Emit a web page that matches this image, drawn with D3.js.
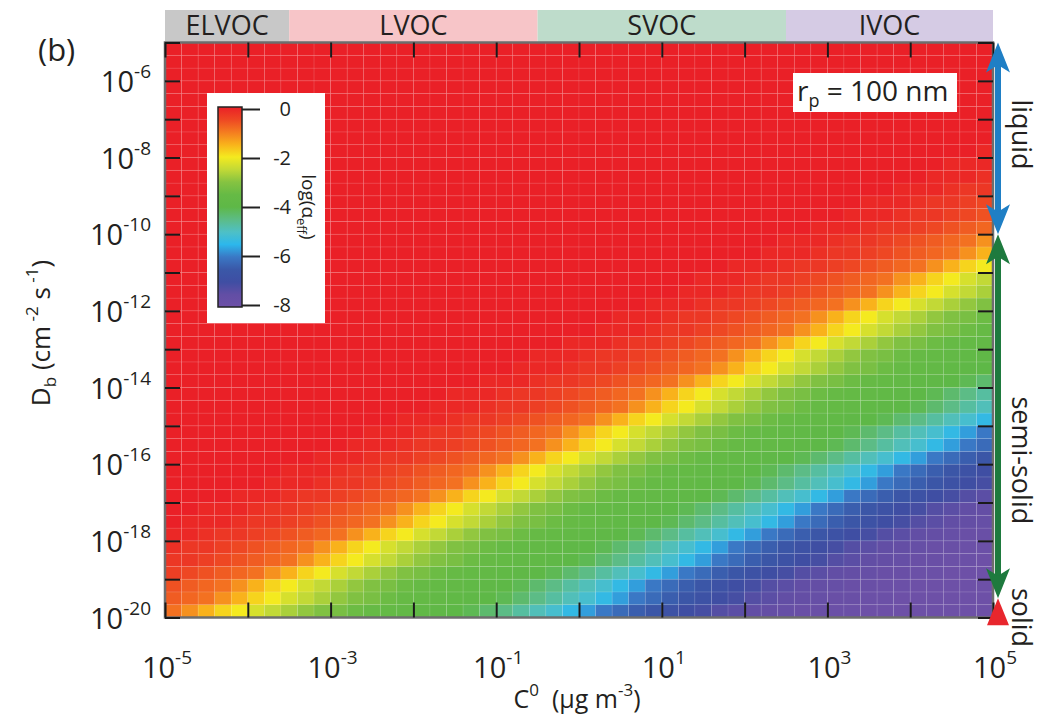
<!DOCTYPE html>
<html>
<head>
<meta charset="utf-8">
<script src="https://cdn.jsdelivr.net/npm/d3@7"></script>
<style>
  body { margin: 0; background: #fff; }
  svg { display: block; }
  text { font-family: "Open Sans", "Noto Sans", sans-serif; fill: #231f20; }
</style>
</head>
<body>
<svg id="chart" width="1040" height="719"></svg>
<script>
// ---- grid of the simulation (log10 units) ----
const logC0Start = -5, logC0Step = 0.2, logC0Count = 50;     // C0 columns, µg m-3
const logDbStart = -20, logDbStep = 1 / 3, logDbCount = 45;  // Db rows, cm2 s-1

// -10 * log10(alpha_eff) for every cell; one line per Db row, highest Db (1e-5) first
const alphaTenths = `
0 0 0 0 0 0 0 0 0 0 0 0 0 0 0 0 0 0 0 0 0 0 0 0 0 0 0 0 0 0 0 0 0 0 0 0 0 0 0 0 0 0 0 0 0 0 0 0 0 0
0 0 0 0 0 0 0 0 0 0 0 0 0 0 0 0 0 0 0 0 0 0 0 0 0 0 0 0 0 0 0 0 0 0 0 0 0 0 0 0 0 0 0 0 0 0 0 0 0 0
0 0 0 0 0 0 0 0 0 0 0 0 0 0 0 0 0 0 0 0 0 0 0 0 0 0 0 0 0 0 0 0 0 0 0 0 0 0 0 0 0 0 0 0 0 0 0 0 0 0
0 0 0 0 0 0 0 0 0 0 0 0 0 0 0 0 0 0 0 0 0 0 0 0 0 0 0 0 0 0 0 0 0 0 0 0 0 0 0 0 0 0 0 0 0 0 0 0 0 0
0 0 0 0 0 0 0 0 0 0 0 0 0 0 0 0 0 0 0 0 0 0 0 0 0 0 0 0 0 0 0 0 0 0 0 0 0 0 0 0 0 0 0 0 0 0 0 0 0 0
0 0 0 0 0 0 0 0 0 0 0 0 0 0 0 0 0 0 0 0 0 0 0 0 0 0 0 0 0 0 0 0 0 0 0 0 0 0 0 0 0 0 0 0 0 0 0 0 0 0
0 0 0 0 0 0 0 0 0 0 0 0 0 0 0 0 0 0 0 0 0 0 0 0 0 0 0 0 0 0 0 0 0 0 0 0 0 0 0 0 0 0 0 0 0 0 0 0 0 0
0 0 0 0 0 0 0 0 0 0 0 0 0 0 0 0 0 0 0 0 0 0 0 0 0 0 0 0 0 0 0 0 0 0 0 0 0 0 0 0 0 0 0 0 0 0 0 0 0 0
0 0 0 0 0 0 0 0 0 0  0 0 0 0 0 0 0 0 0 0  0 0 0 0 0 0 0 0 0 0  0 0 0 0 0 0 0 0 0 0  0 0 0 0 0 0 0 0 0  1
0 0 0 0 0 0 0 0 0 0  0 0 0 0 0 0 0 0 0 0  0 0 0 0 0 0 0 0 0 0  0 0 0 0 0 0 0 0 0 0  0 0 0 0 0 0 0  1 1 1
0 0 0 0 0 0 0 0 0 0  0 0 0 0 0 0 0 0 0 0  0 0 0 0 0 0 0 0 0 0  0 0 0 0 0 0 0 0 0 0  0 0 0 0 0 0  1 1 1 2
0 0 0 0 0 0 0 0 0 0  0 0 0 0 0 0 0 0 0 0  0 0 0 0 0 0 0 0 0 0  0 0 0 0 0 0 0 0 0 0  0 0 0 0  1 1 1 2 3 3
0 0 0 0 0 0 0 0 0 0  0 0 0 0 0 0 0 0 0 0  0 0 0 0 0 0 0 0 0 0  0 0 0 0 0 0 0 0 0 0  0 0  1 1 1 2 3 3 4 5
0 0 0 0 0 0 0 0 0 0  0 0 0 0 0 0 0 0 0 0  0 0 0 0 0 0 0 0 0 0  0 0 0 0 0 0 0 0 0 0  0  1 1 1 2 3 3 4 5 6
0 0 0 0 0 0 0 0 0 0  0 0 0 0 0 0 0 0 0 0  0 0 0 0 0 0 0 0 0 0  0 0 0 0 0 0 0 0 0  1 1 1 2 3 3 4 5 6 7 8
0 0 0 0 0 0 0 0 0 0  0 0 0 0 0 0 0 0 0 0  0 0 0 0 0 0 0 0 0 0  0 0 0 0 0 0 0  1 1 1 2 3 3 4 5 6 7 8 9 12
0 0 0 0 0 0 0 0 0 0  0 0 0 0 0 0 0 0 0 0  0 0 0 0 0 0 0 0 0 0  0 0 0 0 0 0  1 1 1 2 3 3 4 5 6 7 8 9 12 15
0 0 0 0 0 0 0 0 0 0  0 0 0 0 0 0 0 0 0 0  0 0 0 0 0 0 0 0 0 0  0 0 0 0  1 1 1 2 3 3 4 5 6 7 8 9 12 15 18 20
0 0 0 0 0 0 0 0 0 0  0 0 0 0 0 0 0 0 0 0  0 0 0 0 0 0 0 0 0 0  0 0  1 1 1 2 3 3 4 5 6 7 8 9 12 15 18 20 23 25
0 0 0 0 0 0 0 0 0 0  0 0 0 0 0 0 0 0 0 0  0 0 0 0 0 0 0 0 0 0  0  1 1 1 2 3 3 4 5 6 7 8 9 12 15 18 20 23 25 27
0 0 0 0 0 0 0 0 0 0  0 0 0 0 0 0 0 0 0 0  0 0 0 0 0 0 0 0 0  1 1 1 2 3 3 4 5 6 7 8 9 12 15 18 20 23 25 27 29 31
0 0 0 0 0 0 0 0 0 0  0 0 0 0 0 0 0 0 0 0  0 0 0 0 0 0 0  1 1 1 2 3 3 4 5 6 7 8 9 12 15 18 20 23 25 27 29 31 32 34
0 0 0 0 0 0 0 0 0 0  0 0 0 0 0 0 0 0 0 0  0 0 0 0 0 0  1 1 1 2 3 3 4 5 6 7 8 9 12 15 18 20 23 25 27 29 31 32 34 35
0 0 0 0 0 0 0 0 0 0  0 0 0 0 0 0 0 0 0 0  0 0 0 0  1 1 1 2 3 3 4 5 6 7 8 9 12 15 18 20 23 25 27 29 31 32 34 35 36 37
0 0 0 0 0 0 0 0 0 0  0 0 0 0 0 0 0 0 0 0  0 0  1 1 1 2 3 3 4 5 6 7 8 9 12 15 18 20 23 25 27 29 31 32 34 35 36 37 38 39
0 0 0 0 0 0 0 0 0 0  0 0 0 0 0 0 0 0 0 0  0  1 1 1 2 3 3 4 5 6 7 8 9 12 15 18 20 23 25 27 29 31 32 34 35 36 37 38 39 40
0 0 0 0 0 0 0 0 0 0  0 0 0 0 0 0 0 0 0  1 1 1 2 3 3 4 5 6 7 8 9 12 15 18 20 23 25 27 29 31 32 34 35 36 37 38 39 40 41 43
0 0 0 0 0 0 0 0 0 0  0 0 0 0 0 0 0  1 1 1 2 3 3 4 5 6 7 8 9 12 15 18 20 23 25 27 29 31 32 34 35 36 37 38 39 40 41 43 45 47
0 0 0 0 0 0 0 0 0 0  0 0 0 0 0 0  1 1 1 2 3 3 4 5 6 7 8 9 12 15 18 20 23 25 27 29 31 32 34 35 36 37 38 39 40 41 43 45 47 49
0 0 0 0 0 0 0 0 0 0  0 0 0 0  1 1 1 2 3 3 4 5 6 7 8 9 12 15 18 20 23 25 27 29 31 32 34 35 36 37 38 39 40 41 43 45 47 49 51 54
0 0 0 0 0 0 0 0 0 0  0 0  1 1 1 2 3 3 4 5 6 7 8 9 12 15 18 20 23 25 27 29 31 32 34 35 36 37 38 39 40 41 43 45 47 49 51 54 57 60
0 0 0 0 0 0 0 0 0 0  0  1 1 1 2 3 3 4 5 6 7 8 9 12 15 18 20 23 25 27 29 31 32 34 35 36 37 38 39 40 41 43 45 47 49 51 54 57 60 62
0 0 0 0 0 0 0 0 0  1 1 1 2 3 3 4 5 6 7 8 9 12 15 18 20 23 25 27 29 31 32 34 35 36 37 38 39 40 41 43 45 47 49 51 54 57 60 62 64 66
0 0 0 0 0 0 0  1 1 1 2 3 3 4 5 6 7 8 9 12 15 18 20 23 25 27 29 31 32 34 35 36 37 38 39 40 41 43 45 47 49 51 54 57 60 62 64 66 68 70
0 0 0 0 0 0  1 1 1 2 3 3 4 5 6 7 8 9 12 15 18 20 23 25 27 29 31 32 34 35 36 37 38 39 40 41 43 45 47 49 51 54 57 60 62 64 66 68 70 71
0 0 0 0  1 1 1 2 3 3 4 5 6 7 8 9 12 15 18 20 23 25 27 29 31 32 34 35 36 37 38 39 40 41 43 45 47 49 51 54 57 60 62 64 66 68 70 71 73 74
0 0  1 1 1 2 3 3 4 5 6 7 8 9 12 15 18 20 23 25 27 29 31 32 34 35 36 37 38 39 40 41 43 45 47 49 51 54 57 60 62 64 66 68 70 71 73 74 75 76
0  1 1 1 2 3 3 4 5 6 7 8 9 12 15 18 20 23 25 27 29 31 32 34 35 36 37 38 39 40 41 43 45 47 49 51 54 57 60 62 64 66 68 70 71 73 74 75 76 77
1 1 2 3 3 4 5 6 7 8 9 12 15 18 20 23 25 27 29 31 32 34 35 36 37 38 39 40 41 43 45 47 49 51 54 57 60 62 64 66 68 70 71 73 74 75 76 77 78 78
2 3 3 4 5 6 7 8 9 12 15 18 20 23 25 27 29 31 32 34 35 36 37 38 39 40 41 43 45 47 49 51 54 57 60 62 64 66 68 70 71 73 74 75 76 77 78 78 79 79
3 3 4 5 6 7 8 9 12 15 18 20 23 25 27 29 31 32 34 35 36 37 38 39 40 41 43 45 47 49 51 54 57 60 62 64 66 68 70 71 73 74 75 76 77 78 78 79 79 80
4 5 6 7 8 9 12 15 18 20 23 25 27 29 31 32 34 35 36 37 38 39 40 41 43 45 47 49 51 54 57 60 62 64 66 68 70 71 73 74 75 76 77 78 78 79 79 80 80 80
6 7 8 9 12 15 18 20 23 25 27 29 31 32 34 35 36 37 38 39 40 41 43 45 47 49 51 54 57 60 62 64 66 68 70 71 73 74 75 76 77 78 78 79 79 80 80 80 80 80
7 8 9 12 15 18 20 23 25 27 29 31 32 34 35 36 37 38 39 40 41 43 45 47 49 51 54 57 60 62 64 66 68 70 71 73 74 75 76 77 78 78 79 79 80 80 80 80 80 80
9 12 15 18 20 23 25 27 29 31 32 34 35 36 37 38 39 40 41 43 45 47 49 51 54 57 60 62 64 66 68 70 71 73 74 75 76 77 78 78 79 79 80 80 80 80 80 80 80 80
`;

// colour table for log(alpha_eff)
const cbarValues = [0, -0.5, -1, -1.5, -2, -2.5, -3, -3.5, -4, -4.5, -5, -5.5, -6, -6.5, -7, -7.5, -8];
const cbarColors = ['#ea2027', '#ee4723', '#f47b20', '#f9b21b', '#f4ea1f', '#c2d936', '#86c341', '#66ba45',
                    '#5eb847', '#5cbc86', '#4ec0c6', '#2cb7ec', '#3a78c5', '#3a58a8', '#3f4ea3', '#624ea5', '#6d50a7'];
const cbarTicks = [0, -2, -4, -6, -8];

// axis ticks (powers of ten)
const c0TickPowers = d3.range(-5, 6);          // every decade
const c0LabelPowers = [-5, -3, -1, 1, 3, 5];
const dbTickPowers = d3.range(-20, -4);
const dbLabelPowers = [-6, -8, -10, -12, -14, -16, -18, -20];

// volatility classes along the top (log10 C0 bounds)
const volClasses = ['ELVOC', 'LVOC', 'SVOC', 'IVOC'];
const volLower = [-5, -3.5, -0.5, 2.5];
const volUpper = [-3.5, -0.5, 2.5, 5];
const volFill = ['#c8c8c8', '#f7c5c8', '#bedccb', '#d5cbe4'];

// phase-state ranges of Db (log10 cm2 s-1)
const phaseNames = ['liquid', 'semi-solid', 'solid'];
const phaseTop = [-5, -10, -19.5];
const phaseBottom = [-10, -19.5, -20.2];
const phaseLabelAt = [-7.4, -15.9, -20.0];
const phaseColors = ['#1f7fc5', '#1e7a3e', '#e8262d'];
const phaseTextColors = ['#2aa7e0', '#2b8a44', '#e8262d'];

// ---------------------------------------------------------------
const svg = d3.select('#chart');
const plot = { left: 165, right: 993, top: 42.5, bottom: 617.5 };

const x = d3.scaleLog().domain([1e-5, 1e5]).range([plot.left, plot.right]);
const y = d3.scaleLog().domain([1e-20, 1e-5]).range([plot.bottom, plot.top]);
const color = d3.scaleLinear().domain(cbarValues).range(cbarColors).interpolate(d3.interpolateRgb).clamp(true);

// parse the table, bottom row first
const rows = alphaTenths.trim().split('\n').map(l => l.trim().split(/\s+/).map(Number)).reverse();
const cells = [];
rows.forEach((row, i) => {
  row.forEach((n, j) => {
    cells.push({
      c0a: Math.pow(10, logC0Start + j * logC0Step),
      c0b: Math.pow(10, logC0Start + (j + 1) * logC0Step),
      dba: Math.pow(10, logDbStart + i * logDbStep),
      dbb: Math.pow(10, logDbStart + (i + 1) * logDbStep),
      v: -n / 10
    });
  });
});

svg.append('rect').attr('width', 1040).attr('height', 719).attr('fill', '#fff');

// heat map
svg.append('g').selectAll('rect').data(cells).join('rect')
  .attr('x', d => x(d.c0a))
  .attr('y', d => y(d.dbb))
  .attr('width', d => x(d.c0b) - x(d.c0a))
  .attr('height', d => y(d.dba) - y(d.dbb))
  .attr('fill', d => color(d.v))
  .attr('stroke', 'rgba(255,255,255,0.13)')
  .attr('stroke-width', 0.7);

// volatility class bar
const volG = svg.append('g');
volClasses.forEach((name, i) => {
  const xa = x(Math.pow(10, volLower[i])), xb = x(Math.pow(10, volUpper[i]));
  volG.append('rect').attr('x', xa).attr('y', 10).attr('width', xb - xa).attr('height', plot.top - 10)
    .attr('fill', volFill[i]);
  volG.append('text').attr('x', (xa + xb) / 2).attr('y', 35).attr('text-anchor', 'middle')
    .attr('font-size', 27).attr('fill', '#333').text(name);
});

// frame
svg.append('rect').attr('x', plot.left).attr('y', plot.top)
  .attr('width', plot.right - plot.left).attr('height', plot.bottom - plot.top)
  .attr('fill', 'none').attr('stroke', '#6d6d6d').attr('stroke-width', 2.5);

// inward ticks on all four sides
const tickLen = 15;
const axB = d3.axisBottom(x).tickValues(c0TickPowers.map(p => Math.pow(10, p))).tickSize(-tickLen).tickFormat('');
const axT = d3.axisTop(x).tickValues(c0TickPowers.map(p => Math.pow(10, p))).tickSize(-tickLen).tickFormat('');
const axL = d3.axisLeft(y).tickValues(dbTickPowers.map(p => Math.pow(10, p))).tickSize(-tickLen).tickFormat('');
const axR = d3.axisRight(y).tickValues(dbTickPowers.map(p => Math.pow(10, p))).tickSize(-tickLen).tickFormat('');
[[axB, `translate(0,${plot.bottom})`], [axT, `translate(0,${plot.top})`],
 [axL, `translate(${plot.left},0)`], [axR, `translate(${plot.right},0)`]].forEach(([ax, tr]) => {
  const g = svg.append('g').attr('transform', tr).call(ax);
  g.select('.domain').remove();
  g.selectAll('.tick line').attr('stroke', '#1a1a1a').attr('stroke-width', 2);
});

// power-of-ten labels
function powLabel(sel, p, baseSize, supSize, supDy) {
  sel.append('tspan').attr('font-size', baseSize).text('10');
  sel.append('tspan').attr('font-size', supSize).attr('dy', supDy).text(String(p));
}
c0LabelPowers.forEach(p => {
  const t = svg.append('text').attr('x', x(Math.pow(10, p)) + 2).attr('y', 678).attr('text-anchor', 'middle');
  powLabel(t, p, 29, 19, -14);
});
dbLabelPowers.forEach(p => {
  const t = svg.append('text').attr('x', 151).attr('y', y(Math.pow(10, p)) + 11).attr('text-anchor', 'end');
  powLabel(t, p, 29, 19, -14);
});

// axis titles
const xt = svg.append('text').attr('x', (plot.left + plot.right) / 2 - 2).attr('y', 708)
  .attr('text-anchor', 'middle').attr('font-size', 25);
xt.append('tspan').text('C');
xt.append('tspan').attr('font-size', 17).attr('dy', -12).text('0');
xt.append('tspan').attr('dy', 12).text('\u00a0 (µg m');
xt.append('tspan').attr('font-size', 17).attr('dy', -12).text('-3');
xt.append('tspan').attr('dy', 12).text(')');

const yt = svg.append('text').attr('transform', `translate(50,333) rotate(-90)`)
  .attr('text-anchor', 'middle').attr('font-size', 26);
yt.append('tspan').text('D');
yt.append('tspan').attr('font-size', 17).attr('dy', 6).text('b');
yt.append('tspan').attr('dy', -6).text(' (cm');
yt.append('tspan').attr('font-size', 17).attr('dy', -12).text(' -2');
yt.append('tspan').attr('dy', 12).text(' s');
yt.append('tspan').attr('font-size', 17).attr('dy', -12).text(' -1');
yt.append('tspan').attr('dy', 12).text(')');

// panel letter
svg.append('text').attr('x', 38).attr('y', 61).attr('font-size', 31).text('(b)');

// particle size note
svg.append('rect').attr('x', 793).attr('y', 73).attr('width', 164).attr('height', 39).attr('fill', '#fff');
const rp = svg.append('text').attr('x', 797).attr('y', 101).attr('font-size', 28);
rp.append('tspan').text('r');
rp.append('tspan').attr('font-size', 18).attr('dy', 6).text('p');
rp.append('tspan').attr('dy', -6).text(' = 100 nm');

// colour bar
const cb = { x: 218, w: 24 };
const cbScale = d3.scaleLinear().domain([0, -8]).range([109, 305]);
svg.append('rect').attr('x', 207).attr('y', 93).attr('width', 118).attr('height', 230).attr('fill', '#fff');
const grad = svg.append('defs').append('linearGradient').attr('id', 'cbarGrad')
  .attr('x1', 0).attr('y1', 0).attr('x2', 0).attr('y2', 1);
cbarValues.forEach((v, i) => {
  grad.append('stop').attr('offset', (-v / 8)).attr('stop-color', cbarColors[i]);
});
svg.append('rect').attr('x', cb.x).attr('y', cbScale(0) - 2).attr('width', cb.w)
  .attr('height', cbScale(-8) - cbScale(0) + 4).attr('fill', 'url(#cbarGrad)')
  .attr('stroke', '#222').attr('stroke-width', 1.5);
const cbAx = svg.append('g').attr('transform', `translate(${cb.x + cb.w},0)`)
  .call(d3.axisRight(cbScale).tickValues(cbarTicks).tickSize(18).tickFormat(''));
cbAx.select('.domain').remove();
cbAx.selectAll('.tick line').attr('stroke', '#222').attr('stroke-width', 2);
cbarTicks.forEach(v => {
  svg.append('text').attr('x', 291).attr('y', cbScale(v) + 7).attr('text-anchor', 'end')
    .attr('font-size', 20).text(String(v));
});
const cbt = svg.append('text').attr('transform', `translate(302,207) rotate(90)`)
  .attr('text-anchor', 'middle').attr('font-size', 19);
cbt.append('tspan').text('log(α');
cbt.append('tspan').attr('font-size', 13).attr('dy', 5).text('eff');
cbt.append('tspan').attr('dy', -5).text(')');

// phase-state arrows on the right
const ax = 998;
function head(g, yTip, dir, w, len, fill) {
  g.append('path').attr('d', `M${ax},${yTip} L${ax - w / 2},${yTip + dir * len} L${ax},${yTip + dir * len * 0.75} L${ax + w / 2},${yTip + dir * len} Z`)
    .attr('fill', fill);
}
const arrowG = svg.append('g');
[0, 1].forEach(i => {
  const yt0 = y(Math.pow(10, phaseTop[i])), yb0 = y(Math.pow(10, phaseBottom[i]));
  arrowG.append('line').attr('x1', ax).attr('x2', ax).attr('y1', yt0 + 15).attr('y2', yb0 - 15)
    .attr('stroke', phaseColors[i]).attr('stroke-width', 6);
  head(arrowG, yt0, 1, 24, 30, phaseColors[i]);
  head(arrowG, yb0, -1, 24, 30, phaseColors[i]);
});
{
  const yt0 = y(Math.pow(10, phaseTop[2])), yb0 = y(Math.pow(10, phaseBottom[2]));
  arrowG.append('path').attr('d', `M${ax},${yt0} L${ax - 11},${yb0} L${ax + 11},${yb0} Z`).attr('fill', phaseColors[2]);
}
phaseNames.forEach((name, i) => {
  svg.append('text').attr('transform', `translate(1012,${y(Math.pow(10, phaseLabelAt[i]))}) rotate(90)`)
    .attr('text-anchor', 'middle').attr('font-size', 27).attr('fill', phaseTextColors[i]).text(name);
});
</script>
</body>
</html>
